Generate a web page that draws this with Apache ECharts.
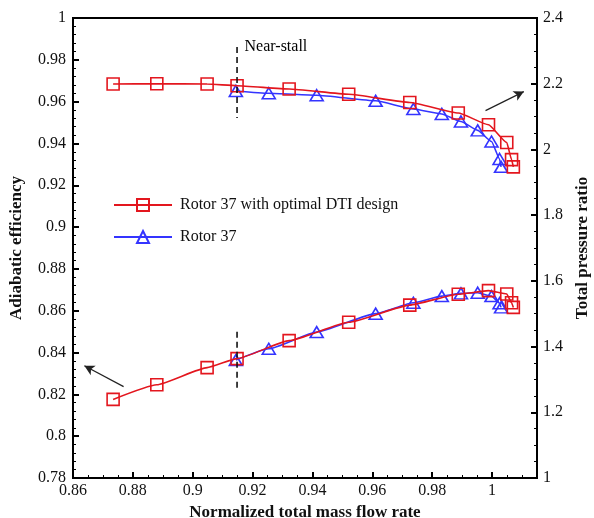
<!DOCTYPE html>
<html><head><meta charset="utf-8">
<script src="https://cdn.jsdelivr.net/npm/echarts@6/dist/echarts.min.js"></script>
<style>html,body{margin:0;padding:0;background:#fff}#c{width:594px;height:518px}</style>
</head><body><div id="c"></div>
<script>
const seriesNames = ['Rotor 37 with optimal DTI design', 'Rotor 37'];
// Optimal DTI design
const dtiFlow = [0.8734, 0.8880, 0.9048, 0.9148, 0.9322, 0.9521, 0.9725, 0.9887, 0.9988, 1.0049, 1.0065, 1.0071];
const dtiPressure = [2.199, 2.200, 2.199, 2.194, 2.184, 2.168, 2.143, 2.111, 2.075, 2.021, 1.969, 1.947];
const dtiEfficiency = [0.8176, 0.8246, 0.8328, 0.8371, 0.8457, 0.8545, 0.8627, 0.8679, 0.8696, 0.8680, 0.8638, 0.8616];
// Baseline Rotor 37
const r37Flow = [0.9144, 0.9254, 0.9414, 0.9611, 0.9737, 0.9832, 0.9896, 0.9952, 0.9998, 1.0025, 1.0030];
const r37Pressure = [2.178, 2.171, 2.165, 2.148, 2.123, 2.108, 2.085, 2.058, 2.024, 1.971, 1.947];
const r37Efficiency = [0.8364, 0.8418, 0.8498, 0.8586, 0.8638, 0.8670, 0.8683, 0.8686, 0.8670, 0.8636, 0.8616];
// Annotations
const nearStallFlow = 0.9148;
const nearStallPressureRange = [2.312, 2.096];
const nearStallEffRange = [0.850, 0.823];
const arrowPressure = [[0.9978, 2.118], [1.0106, 2.176]];
const arrowEfficiency = [[0.8769, 0.8237], [0.8638, 0.8337]];
// Axes
const xRange = [0.86, 1.015, 0.02];
const effRange = [0.78, 1.0, 0.02];
const prRange = [1.0, 2.4, 0.2];

const RED = '#e3161e', BLUE = '#3434ff';
const FONT = 'Liberation Serif';
const zip = (a, b) => a.map((v, i) => [v, b[i]]);

const chart = echarts.init(document.getElementById('c'), null, {renderer: 'canvas'});
const tickStyle = {lineStyle: {color: '#000', width: 2}, inside: true, length: 6};
const minorStyle = (n) => ({show: true, splitNumber: n, length: 3, lineStyle: {color: '#000', width: 1}});
const labelStyle = {color: '#111', fontFamily: FONT, fontSize: 16};
const nameStyle = {color: '#111', fontFamily: FONT, fontSize: 17, fontWeight: 'bold'};

function markerSeries(name, xs, ys, yIdx, color, symbol, size) {
  return {
    name, type: 'line', yAxisIndex: yIdx, data: zip(xs, ys),
    smooth: 0.15, smoothMonotone: 'x',
    symbol, symbolSize: size, showAllSymbol: true,
    lineStyle: {color, width: 1.6},
    itemStyle: {color: 'rgba(255,255,255,0)', borderColor: color, borderWidth: 1.6},
    emphasis: {disabled: true}, animation: false, z: color === RED ? 3 : 2
  };
}

chart.setOption({
  backgroundColor: '#fff',
  animation: false,
  grid: {left: 73, right: 57, top: 18, bottom: 40, show: true, borderColor: '#000', borderWidth: 2,
    containLabel: false, outerBoundsMode: 'none'},
  legend: {
    data: seriesNames, orient: 'vertical', left: 108, top: 192,
    itemWidth: 58, itemHeight: 15, itemGap: 16,
    textStyle: {fontFamily: FONT, fontSize: 16, color: '#111', padding: [0, 0, 0, 3]},
    itemStyle: {color: 'rgba(255,255,255,0)'}
  },
  xAxis: {
    type: 'value', min: xRange[0], max: xRange[1], interval: xRange[2],
    name: 'Normalized total mass flow rate', nameLocation: 'middle', nameGap: 19, nameTextStyle: nameStyle,
    axisLine: {show: true, lineStyle: {color: '#000', width: 2}},
    axisTick: tickStyle, minorTick: minorStyle(4), splitLine: {show: false},
    axisLabel: Object.assign({margin: 5, showMaxLabel: false,
      formatter: v => (Math.abs(v / 0.02 - Math.round(v / 0.02)) < 1e-6 ? String(+v.toFixed(2)) : '')}, labelStyle)
  },
  yAxis: [{
    type: 'value', min: effRange[0], max: effRange[1], interval: effRange[2], position: 'left',
    name: 'Adiabatic efficiency', nameLocation: 'middle', nameGap: 48, nameRotate: 90, nameTextStyle: nameStyle,
    axisLine: {show: true, lineStyle: {color: '#000', width: 2}},
    axisTick: tickStyle, minorTick: minorStyle(5), splitLine: {show: false},
    axisLabel: Object.assign({margin: 7, formatter: v => String(+v.toFixed(2))}, labelStyle)
  }, {
    type: 'value', min: prRange[0], max: prRange[1], interval: prRange[2], position: 'right',
    name: 'Total pressure ratio', nameLocation: 'middle', nameGap: 28, nameRotate: 90, nameTextStyle: nameStyle,
    axisLine: {show: true, lineStyle: {color: '#000', width: 2}},
    axisTick: tickStyle, minorTick: minorStyle(4), splitLine: {show: false},
    axisLabel: Object.assign({margin: 6, formatter: v => String(+v.toFixed(1))}, labelStyle)
  }],
  series: [
    markerSeries(seriesNames[1], r37Flow, r37Pressure, 1, BLUE, 'triangle', [13, 11]),
    markerSeries(seriesNames[1], r37Flow, r37Efficiency, 0, BLUE, 'triangle', [13, 11]),
    markerSeries(seriesNames[0], dtiFlow, dtiPressure, 1, RED, 'rect', 12),
    markerSeries(seriesNames[0], dtiFlow, dtiEfficiency, 0, RED, 'rect', 12),
    {
      type: 'line', yAxisIndex: 1, symbol: 'none', silent: true, z: 4,
      data: nearStallPressureRange.map(v => [nearStallFlow, v]),
      lineStyle: {color: '#111', width: 1.6, type: [6, 4]},
      markLine: {
        silent: true, symbol: ['none', 'arrow'], symbolSize: [8, 10], label: {show: false},
        lineStyle: {color: '#222', width: 1.2, type: 'solid'},
        data: [[{coord: arrowPressure[0]}, {coord: arrowPressure[1]}]]
      }
    },
    {
      type: 'line', yAxisIndex: 0, symbol: 'none', silent: true, z: 4,
      data: nearStallEffRange.map(v => [nearStallFlow, v]),
      lineStyle: {color: '#111', width: 1.6, type: [6, 4]},
      markLine: {
        silent: true, symbol: ['none', 'arrow'], symbolSize: [8, 10], label: {show: false},
        lineStyle: {color: '#222', width: 1.2, type: 'solid'},
        data: [[{coord: arrowEfficiency[0]}, {coord: arrowEfficiency[1]}]]
      }
    },
    {
      type: 'scatter', yAxisIndex: 1, silent: true, symbolSize: 1,
      itemStyle: {color: '#fff', opacity: 1},
      data: [[nearStallFlow, nearStallPressureRange[0]]],
      label: {show: true, position: 'right', distance: 7, formatter: 'Near-stall',
        fontFamily: FONT, fontSize: 16, color: '#000', opacity: 1}
    }
  ]
});
</script></body></html>
